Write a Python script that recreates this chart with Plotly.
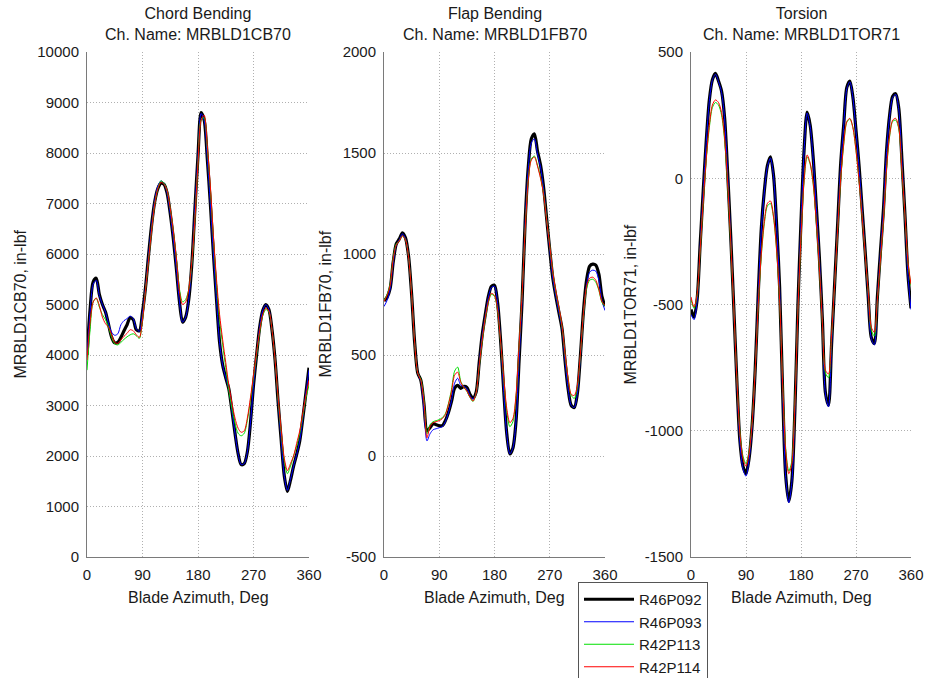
import plotly.graph_objects as go

# ---------------- data ----------------
azimuth = list(range(0, 361, 5))

series_names = ["R46P092", "R46P093", "R42P113", "R42P114"]
series_colors = ["#000000", "#0000ff", "#00e000", "#ff0000"]
series_widths = [3.2, 1, 1, 1]

# Chord bending (MRBLD1CB70, in-lbf)
cb_r46p092 = [4000, 4900, 5450, 5520, 5200, 5000, 4850, 4600, 4350, 4240, 4250, 4350, 4480, 4600, 4740,
              4700, 4500, 4480, 4850, 5350, 6000, 6600, 7050, 7300, 7400, 7380, 7200, 6800, 6300, 5700,
              5050, 4650, 4750, 5100, 5800, 6900, 7950, 8800, 8650, 7900, 7000, 6000, 5100, 4250, 3800,
              3550, 3330, 2900, 2450, 2050, 1830, 1850, 2080, 2650, 3400, 4000, 4550, 4880, 5000, 4900,
              4500, 3900, 3050, 2300, 1600, 1300, 1520, 1800, 2030, 2300, 2750, 3250, 3750]
cb_r46p093 = [3950, 4850, 5400, 5480, 5180, 5000, 4850, 4620, 4450, 4390, 4420, 4600, 4680, 4720, 4770,
              4720, 4520, 4470, 4830, 5350, 6000, 6600, 7070, 7350, 7450, 7400, 7200, 6800, 6300, 5700,
              5050, 4650, 4750, 5100, 5800, 6900, 7950, 8780, 8650, 7900, 7000, 6000, 5100, 4250, 3800,
              3550, 3330, 2900, 2450, 2050, 1830, 1850, 2080, 2650, 3400, 4000, 4550, 4880, 5000, 4900,
              4500, 3900, 3050, 2300, 1600, 1320, 1540, 1800, 2030, 2300, 2750, 3250, 3700]
cb_r42p113 = [3700, 4500, 5050, 5120, 4950, 4800, 4700, 4550, 4350, 4220, 4200, 4250, 4310, 4360, 4400,
              4420, 4380, 4330, 4700, 5300, 5900, 6500, 7000, 7300, 7450, 7400, 7250, 6900, 6450, 5900,
              5300, 5050, 5100, 5300, 5800, 6700, 7800, 8650, 8700, 8100, 7300, 6300, 5400, 4700, 4200,
              3750, 3300, 2950, 2650, 2450, 2400, 2450, 2700, 3100, 3550, 4000, 4450, 4780, 4900, 4850,
              4500, 3900, 3100, 2450, 1900, 1650, 1800, 2000, 2200, 2450, 2800, 3150, 3400]
cb_r42p114 = [3900, 4650, 5050, 5130, 4980, 4750, 4620, 4550, 4400, 4250, 4230, 4300, 4370, 4430, 4500,
              4480, 4400, 4350, 4700, 5300, 5900, 6500, 7000, 7300, 7420, 7380, 7250, 6900, 6450, 5900,
              5250, 5000, 5050, 5300, 5850, 6700, 7800, 8650, 8750, 8150, 7350, 6350, 5500, 4800, 4300,
              3850, 3400, 3050, 2750, 2550, 2470, 2500, 2750, 3150, 3600, 4050, 4480, 4800, 4930, 4870,
              4500, 3900, 3150, 2500, 1950, 1710, 1850, 2000, 2250, 2500, 2850, 3200, 3500]

# Flap bending (MRBLD1FB70, in-lbf)
fb_r46p092 = [768, 785, 830, 960, 1050, 1075, 1105, 1080, 990, 800, 560, 410, 375, 260, 125,
              140, 160, 155, 150, 150, 175, 215, 270, 335, 350, 335, 345, 340, 305, 287,
              315, 460, 600, 700, 790, 840, 845, 760, 570, 325, 110, 10, 40, 170, 470,
              770, 1165, 1430, 1570, 1595, 1510, 1440, 1330, 1175, 1020, 880, 790, 710, 630, 470,
              330, 250, 240, 310, 500, 720, 870, 940, 950, 945, 900, 790, 742]
fb_r46p093 = [740, 770, 825, 955, 1045, 1070, 1100, 1075, 985, 800, 560, 410, 370, 230, 75,
              110, 130, 135, 140, 145, 170, 215, 275, 360, 385, 350, 345, 335, 300, 282,
              310, 455, 595, 695, 785, 835, 840, 755, 565, 320, 105, 10, 40, 170, 470,
              770, 1160, 1420, 1550, 1570, 1495, 1430, 1320, 1170, 1020, 880, 790, 710, 630, 470,
              330, 250, 240, 310, 490, 700, 850, 910, 920, 915, 870, 770, 720]
fb_r42p113 = [770, 800, 850, 980, 1050, 1065, 1090, 1070, 985, 800, 560, 410, 380, 280, 110,
              155, 170, 175, 180, 190, 210, 260, 330, 420, 440, 370, 340, 320, 290, 270,
              310, 440, 570, 680, 760, 800, 790, 720, 560, 380, 220, 145, 170, 290, 540,
              800, 1130, 1370, 1470, 1485, 1440, 1380, 1300, 1170, 1040, 910, 810, 730, 640, 500,
              380, 300, 285, 340, 500, 700, 830, 870, 875, 860, 820, 760, 740]
fb_r42p114 = [765, 795, 845, 975, 1045, 1065, 1090, 1070, 985, 800, 560, 410, 375, 270, 90,
              145, 165, 170, 175, 185, 205, 255, 320, 400, 415, 365, 340, 322, 292, 272,
              312, 445, 575, 685, 765, 805, 795, 725, 565, 390, 235, 165, 185, 300, 545,
              800, 1125, 1365, 1465, 1480, 1435, 1375, 1295, 1165, 1040, 910, 815, 735, 645, 505,
              385, 305, 300, 350, 510, 710, 840, 880, 885, 870, 825, 765, 745]

# Torsion (MRBLD1TOR71, in-lbf)
tor_r46p092 = [-520, -550, -480, -260, -50, 150, 310, 390, 415, 385, 345, 240, 20, -230, -510,
               -800, -1040, -1140, -1170, -1110, -980, -760, -460, -200, -50, 50, 85, 13, -180, -430,
               -850, -1180, -1280, -1200, -920, -500, -170, 110, 262, 210, 80, -110, -310, -560, -850,
               -900, -660, -420, -180, 60, 215, 360, 385, 320, 190, 50, -120, -290, -470, -630,
               -655, -470, -290, -120, 110, 250, 325, 335, 277, 80, -140, -380, -515]
tor_r46p093 = [-540, -560, -485, -265, -55, 145, 305, 388, 412, 383, 340, 235, 15, -235, -515,
               -805, -1045, -1150, -1180, -1115, -985, -765, -465, -205, -55, 45, 80, 10, -185, -435,
               -855, -1185, -1285, -1205, -925, -505, -175, 105, 258, 205, 75, -115, -315, -565, -855,
               -905, -665, -425, -185, 55, 210, 355, 382, 318, 185, 45, -125, -295, -475, -635,
               -660, -475, -295, -125, 105, 245, 320, 332, 272, 75, -145, -385, -520]
tor_r42p113 = [-480, -515, -465, -285, -95, 75, 200, 280, 300, 290, 250, 150, -30, -260, -515,
               -790, -1005, -1100, -1130, -1085, -965, -760, -505, -310, -180, -110, -100, -155, -285, -485,
               -815, -1070, -1160, -1120, -890, -520, -235, -15, 85, 55, -25, -175, -355, -575, -770,
               -790, -630, -425, -205, -5, 135, 222, 235, 200, 110, -10, -150, -300, -455, -600,
               -625, -485, -325, -165, 35, 165, 225, 230, 195, 35, -145, -335, -425]
tor_r42p114 = [-470, -510, -460, -280, -90, 80, 210, 290, 310, 300, 260, 160, -20, -250, -510,
               -790, -1010, -1110, -1140, -1090, -970, -760, -500, -300, -170, -100, -90, -150, -280, -480,
               -820, -1080, -1170, -1130, -900, -520, -230, -10, 92, 60, -20, -170, -350, -570, -760,
               -775, -620, -420, -200, 0, 140, 225, 237, 200, 110, -10, -150, -300, -450, -590,
               -610, -480, -320, -160, 40, 170, 230, 237, 200, 40, -140, -330, -420]

x_ticks = [0, 90, 180, 270, 360]
cb_ticks = [0, 1000, 2000, 3000, 4000, 5000, 6000, 7000, 8000, 9000, 10000]
fb_ticks = [-500, 0, 500, 1000, 1500, 2000]
tor_ticks = [-1500, -1000, -500, 0, 500]
x_title = "Blade Azimuth, Deg"

panels = [
    dict(title="Chord Bending<br>Ch. Name: MRBLD1CB70", ytitle="MRBLD1CB70, in-lbf",
         series=[cb_r46p092, cb_r46p093, cb_r42p113, cb_r42p114], ticks=cb_ticks),
    dict(title="Flap Bending<br>Ch. Name: MRBLD1FB70", ytitle="MRBLD1FB70, in-lbf",
         series=[fb_r46p092, fb_r46p093, fb_r42p113, fb_r42p114], ticks=fb_ticks),
    dict(title="Torsion<br>Ch. Name: MRBLD1TOR71", ytitle="MRBLD1TOR71, in-lbf",
         series=[tor_r46p092, tor_r46p093, tor_r42p113, tor_r42p114], ticks=tor_ticks),
]

# ---------------- layout geometry (screen pixels; page margin removed) ----------------
W, H = 927, 678
x_px = [(87, 309), (384, 605), (691, 911)]
y_top, y_bot = 52, 557
ytitle_x = [20, 325, 630]


def fx(px):
    return px / W


def fy(py):
    return 1 - py / H


FONT = "Liberation Sans, Arial, Helvetica, sans-serif"
TXT = "#1a1a1a"
TFS = 16

fig = go.Figure()
annotations = []

for i, p in enumerate(panels):
    ax = "" if i == 0 else str(i + 1)
    for j, (name, col, wd) in enumerate(zip(series_names, series_colors, series_widths)):
        fig.add_trace(go.Scatter(
            x=azimuth, y=p["series"][j], mode="lines", name=name,
            line=dict(color=col, width=wd, shape="spline", smoothing=0.8),
            xaxis="x" + ax, yaxis="y" + ax, showlegend=(i == 0)))
    x0, x1 = x_px[i]
    common = dict(showgrid=True, gridcolor="#b0b0b0", griddash="1px,2px", gridwidth=1,
                  showline=True, linecolor="#7a7a7a", linewidth=1, zeroline=False,
                  ticks="", tickfont=dict(family=FONT, size=15, color=TXT),
                  mirror=False, automargin=False)
    fig.update_layout(**{
        "xaxis" + ax: dict(domain=[fx(x0), fx(x1)], range=[0, 360], tickvals=x_ticks,
                           ticktext=[str(v) for v in x_ticks],
                           anchor="y" + ax, ticklabelstandoff=4, **common),
        "yaxis" + ax: dict(domain=[fy(y_bot), fy(y_top)],
                           range=[p["ticks"][0], p["ticks"][-1]],
                           tickvals=p["ticks"], ticktext=[str(v) for v in p["ticks"]],
                           anchor="x" + ax, ticklabelstandoff=4, **common),
    })
    cx = fx((x0 + x1) / 2)
    annotations.append(dict(text=p["title"], x=cx, y=fy(24), xref="paper", yref="paper",
                            showarrow=False, font=dict(family=FONT, size=TFS, color=TXT),
                            xanchor="center", yanchor="middle"))
    annotations.append(dict(text=x_title, x=cx, y=fy(597), xref="paper", yref="paper",
                            showarrow=False, font=dict(family=FONT, size=TFS, color=TXT),
                            xanchor="center", yanchor="middle"))
    annotations.append(dict(text=p["ytitle"], x=fx(ytitle_x[i]), y=fy((y_top + y_bot) / 2),
                            xref="paper", yref="paper", textangle=-90, showarrow=False,
                            font=dict(family=FONT, size=TFS, color=TXT),
                            xanchor="center", yanchor="middle"))

fig.update_layout(
    width=W, height=H,
    margin=dict(l=0, r=0, t=0, b=0, autoexpand=False),
    paper_bgcolor="white", plot_bgcolor="white",
    annotations=annotations,
    showlegend=True,
    hovermode=False,
    legend=dict(x=fx(578), y=fy(582), xanchor="left", yanchor="top",
                bgcolor="white", bordercolor="#555555", borderwidth=1,
                font=dict(family=FONT, size=15, color=TXT),
                itemwidth=50, tracegroupgap=0),
)

fig.write_html("out.html",
               config={"displayModeBar": False},
               post_script="document.body.style.margin='0';document.body.style.overflow='hidden';")
